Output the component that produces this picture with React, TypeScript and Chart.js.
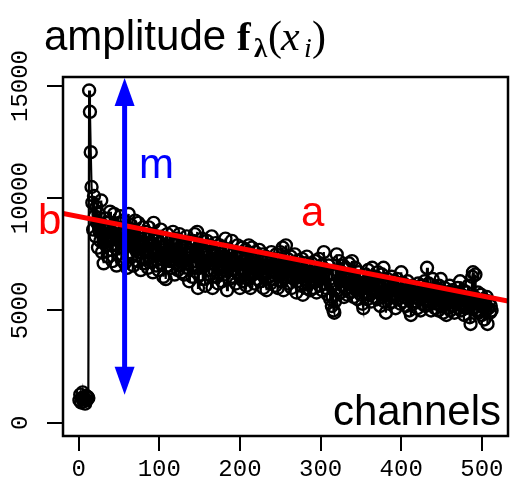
import React, { useEffect, useRef } from "react";
import { Chart, registerables } from "chart.js";

Chart.register(...registerables);

// amplitude per channel (channel = index + 1)
const leadChannels: number[] = [
  1000, 1250, 900, 1100, 1350, 950, 1050, 850, 1200, 1000, 1150, 1100,
  14800, 13850, 12050, 10500,
];

const bodyChannels: number[] = [
  9800, 8600, 10100, 9200, 8300, 9600, 8900, 7800, 9300, 8500, 8100, 9900, 7600, 8800, 7100, 8400,
  9100, 7900, 8700, 7400, 8900, 8200, 9400, 7700, 8500, 7200, 8800, 9300, 7900, 8300, 7000, 8600,
  7500, 8900, 8100, 9200, 7300, 8400, 7800, 9000, 7100, 8600, 8000, 6900, 8700, 9300, 7600, 8200,
  8800, 7400, 8300, 7000, 8600, 9000, 7700, 8100, 7200, 8900, 7600, 8400, 6800, 8000, 7300, 8700,
  7900, 7100, 8500, 7600, 8200, 6900, 8700, 7400, 8000, 7200, 8400, 6700, 8900, 7700, 8100, 7000,
  8300, 7500, 6800, 8000, 7300, 8600, 7100, 7800, 6500, 8200, 7600, 6400, 7900, 8400, 7000, 7700,
  7200, 8100, 6900, 7600, 8500, 7300, 6600, 7900, 7100, 8200, 6800, 7500, 8400, 7000, 7700, 6700,
  8000, 7300, 6600, 7800, 7100, 8300, 6900, 7500, 6300, 7700, 8100, 7000, 6500, 7900, 7200, 8400,
  6900, 7600, 8500, 6000, 7400, 7900, 6600, 7200, 8200, 6400, 7700, 7000, 6100, 7500, 8100, 6800,
  7400, 6600, 7900, 7100, 8300, 6000, 7600, 6800, 7300, 8000, 6500, 7700, 6200, 7400, 7900, 6900,
  7500, 6300, 7800, 7000, 6600, 8200, 7300, 5900, 7100, 7700, 6400, 7600, 6800, 8100, 6500, 7200,
  6800, 7600, 6200, 7400, 7900, 6600, 7100, 6000, 7500, 6900, 7800, 6300, 7200, 6700, 7700, 6100,
  7400, 6500, 7900, 6900, 6000, 7300, 7800, 6600, 7100, 6200, 7600, 6800, 7400, 6400, 7000, 7700,
  6300, 7200, 6700, 7500, 6000, 7000, 6600, 7400, 5900, 6900, 7300, 6500, 7100, 6200, 7600, 6800,
  7300, 6400, 7000, 6100, 7500, 6700, 6000, 7200, 6600, 7600, 6300, 6900, 7800, 5900, 7100, 6500,
  7900, 6800, 7300, 6200, 7000, 6500, 7400, 6000, 6900, 7100, 6400, 7500, 6600, 5800, 7000, 6300,
  7200, 6500, 6900, 6100, 7300, 5700, 6800, 6400, 7100, 6000, 7400, 6600, 6200, 7000, 5900, 6700,
  7100, 6300, 6800, 6000, 7200, 6500, 5800, 6900, 6400, 7300, 6100, 6700, 7000, 5900, 6600, 7600,
  6200, 6800, 6000, 6600, 5700, 7000, 6400, 5500, 6100, 5200, 5600, 5000, 4900, 5400, 6200, 7500,
  6600, 5900, 7200, 6300, 5800, 6700, 6100, 7000, 5600, 6400, 6900, 6000, 5700, 6500, 7100, 6200,
  5800, 6600, 7200, 6100, 5600, 6400, 6900, 5900, 6300, 5500, 6700, 6000, 6500, 5700, 6200, 5300,
  5100, 6200, 5800, 6600, 6000, 5500, 6800, 6100, 5700, 6400, 5400, 6900, 5900, 6300, 5600, 6500,
  6100, 5500, 6700, 5800, 6300, 5200, 6000, 6600, 5600, 6900, 5400, 6200, 4900, 5700, 6400, 5900,
  5300, 6100, 5700, 6500, 5400, 6000, 5600, 6300, 5100, 5900, 6400, 5500, 5800, 6200, 5300, 6700,
  5900, 5400, 6200, 5600, 6000, 5200, 5800, 6300, 5500, 5000, 5900, 4800, 5700, 6100, 5300, 5600,
  6000, 5400, 5800, 5100, 6200, 5500, 5700, 5000, 6100, 5300, 5900, 5600, 6300, 5200, 5800, 6900,
  5500, 6200, 5300, 5700, 5000, 5900, 6400, 5400, 5600, 5100, 6000, 5300, 5800, 5000, 6100, 5500,
  6400, 5200, 5700, 4900, 5500, 6000, 5300, 4800, 5800, 5100, 5600, 6100, 5000, 5400, 5900, 5200,
  5600, 4900, 5800, 5300, 5500, 6000, 5100, 5400, 6300, 5000, 5700, 5200, 5900, 4800, 5500, 5100,
  5800, 5200, 6100, 5400, 4700, 4400, 5500, 6500, 6700, 5100, 5600, 6600, 5000, 5300, 5800, 4900,
  5400, 5000, 5700, 4800, 5200, 5500, 4600, 5300, 5000, 5600, 4400, 5100, 5400, 4900, 5200, 5000,
];

const amplitudes: number[] = [...leadChannels, ...bodyChannels];

const xTickValues = [0, 100, 200, 300, 400, 500];
const yTickValues = [0, 5000, 10000, 15000];
const xLimits = [-19.4, 532.4];
const yLimits = [-592, 15400];

// fitted baseline b + a * channel
const fitIntercept = 9186;
const fitSlope = -7.08;

// modulation arrow
const arrowChannel = 57;
const arrowLow = 1250;
const arrowHigh = 15350;

const MONO = "'Liberation Mono', 'DejaVu Sans Mono', monospace";
const SANS = "'Liberation Sans', Arial, sans-serif";
const SERIF = "'Liberation Serif', 'DejaVu Serif', serif";

const decorPlugin = {
  id: "decor",
  afterDatasetsDraw(chart: any) {
    const ctx: CanvasRenderingContext2D = chart.ctx;
    const xs = chart.scales.x;
    const ys = chart.scales.y;
    const area = chart.chartArea;
    ctx.save();

    // arrow
    const ax = xs.getPixelForValue(arrowChannel);
    const yTop = ys.getPixelForValue(arrowHigh);
    const yBot = ys.getPixelForValue(arrowLow);
    const headLen = 28;
    const headHalf = 10;
    ctx.strokeStyle = "#0000FF";
    ctx.fillStyle = "#0000FF";
    ctx.lineWidth = 5;
    ctx.beginPath();
    ctx.moveTo(ax, yTop + headLen - 2);
    ctx.lineTo(ax, yBot - headLen + 2);
    ctx.stroke();
    ctx.beginPath();
    ctx.moveTo(ax, yTop);
    ctx.lineTo(ax - headHalf, yTop + headLen);
    ctx.lineTo(ax + headHalf, yTop + headLen);
    ctx.closePath();
    ctx.fill();
    ctx.beginPath();
    ctx.moveTo(ax, yBot);
    ctx.lineTo(ax - headHalf, yBot - headLen);
    ctx.lineTo(ax + headHalf, yBot - headLen);
    ctx.closePath();
    ctx.fill();

    // box
    ctx.strokeStyle = "#000";
    ctx.lineWidth = 2.5;
    ctx.strokeRect(area.left, area.top, area.right - area.left, area.bottom - area.top);

    // y tick labels, rotated
    ctx.fillStyle = "#000";
    ctx.font = `24px ${MONO}`;
    ctx.textAlign = "center";
    ctx.textBaseline = "middle";
    for (const v of yTickValues) {
      const py = ys.getPixelForValue(v);
      ctx.save();
      ctx.translate(21, py);
      ctx.rotate(-Math.PI / 2);
      ctx.fillText(String(v), 0, 0);
      ctx.restore();
    }

    // annotations
    ctx.textBaseline = "alphabetic";
    ctx.textAlign = "left";
    ctx.font = `42px ${SANS}`;
    ctx.fillStyle = "#0000FF";
    ctx.fillText("m", 139, 178);
    ctx.fillStyle = "#FF0000";
    ctx.fillText("a", 301, 226);
    ctx.fillText("b", 38, 234);
    ctx.fillStyle = "#000";
    ctx.textAlign = "right";
    ctx.fillText("channels", 501, 425);

    // title
    ctx.textAlign = "left";
    ctx.font = `42px ${SANS}`;
    ctx.fillText("amplitude", 44, 50);
    ctx.font = `bold 41px ${SERIF}`;
    ctx.fillText("f", 237, 50);
    ctx.font = `bold 27px ${SERIF}`;
    ctx.fillText("λ", 254, 57);
    ctx.font = `42px ${SERIF}`;
    ctx.fillText("(", 268, 50);
    ctx.font = `italic 42px ${SERIF}`;
    ctx.fillText("x", 281, 50);
    ctx.font = `italic 28px ${SERIF}`;
    ctx.fillText("i", 304, 57);
    ctx.font = `42px ${SERIF}`;
    ctx.fillText(")", 312, 50);

    ctx.restore();
  },
};

export default function App() {
  const canvasRef = useRef<HTMLCanvasElement | null>(null);

  useEffect(() => {
    const canvas = canvasRef.current;
    if (!canvas) return;
    const points = amplitudes.map((v, i) => ({ x: i + 1, y: v }));
    const fitLine = xLimits.map((x) => ({ x, y: fitIntercept + fitSlope * x }));

    const chart = new Chart(canvas, {
      type: "line",
      data: {
        datasets: [
          {
            data: fitLine,
            borderColor: "#FF0000",
            borderWidth: 5,
            pointRadius: 0,
            order: 0,
          },
          {
            data: points,
            borderColor: "#000",
            backgroundColor: "rgba(0,0,0,0)",
            borderWidth: 2.2,
            pointRadius: 6,
            pointBorderWidth: 2.4,
            pointBorderColor: "#000",
            pointBackgroundColor: "rgba(0,0,0,0)",
            order: 1,
          },
        ],
      },
      options: {
        animation: false,
        responsive: false,
        devicePixelRatio: 1,
        layout: { autoPadding: false, padding: { left: 0, top: 77, right: 2, bottom: 0 } },
        plugins: { legend: { display: false }, tooltip: { enabled: false } },
        scales: {
          x: {
            type: "linear",
            min: xLimits[0],
            max: xLimits[1],
            afterBuildTicks: (s: any) => {
              s.ticks = xTickValues.map((v) => ({ value: v }));
            },
            afterFit: (s: any) => {
              s.height = 61;
              s.paddingLeft = 0;
              s.paddingRight = 0;
            },
            border: { display: false },
            grid: {
              drawOnChartArea: false,
              drawTicks: true,
              tickLength: 15,
              color: "#000",
              lineWidth: 2,
            },
            ticks: {
              color: "#000",
              font: { family: MONO, size: 24 },
              padding: 4,
              maxRotation: 0,
              minRotation: 0,
              autoSkip: false,
            },
          },
          y: {
            type: "linear",
            min: yLimits[0],
            max: yLimits[1],
            afterBuildTicks: (s: any) => {
              s.ticks = yTickValues.map((v) => ({ value: v }));
            },
            afterFit: (s: any) => {
              s.width = 63;
              s.paddingTop = 0;
              s.paddingBottom = 0;
            },
            border: { display: false },
            grid: {
              drawOnChartArea: false,
              drawTicks: true,
              tickLength: 16,
              color: "#000",
              lineWidth: 2,
            },
            ticks: { display: false },
          },
        },
      },
      plugins: [decorPlugin],
    } as any);

    return () => chart.destroy();
  }, []);

  return (
    <div style={{ position: "absolute", left: 0, top: 0, width: 510, height: 497, background: "#fff" }}>
      <canvas ref={canvasRef} width={510} height={497} />
    </div>
  );
}
